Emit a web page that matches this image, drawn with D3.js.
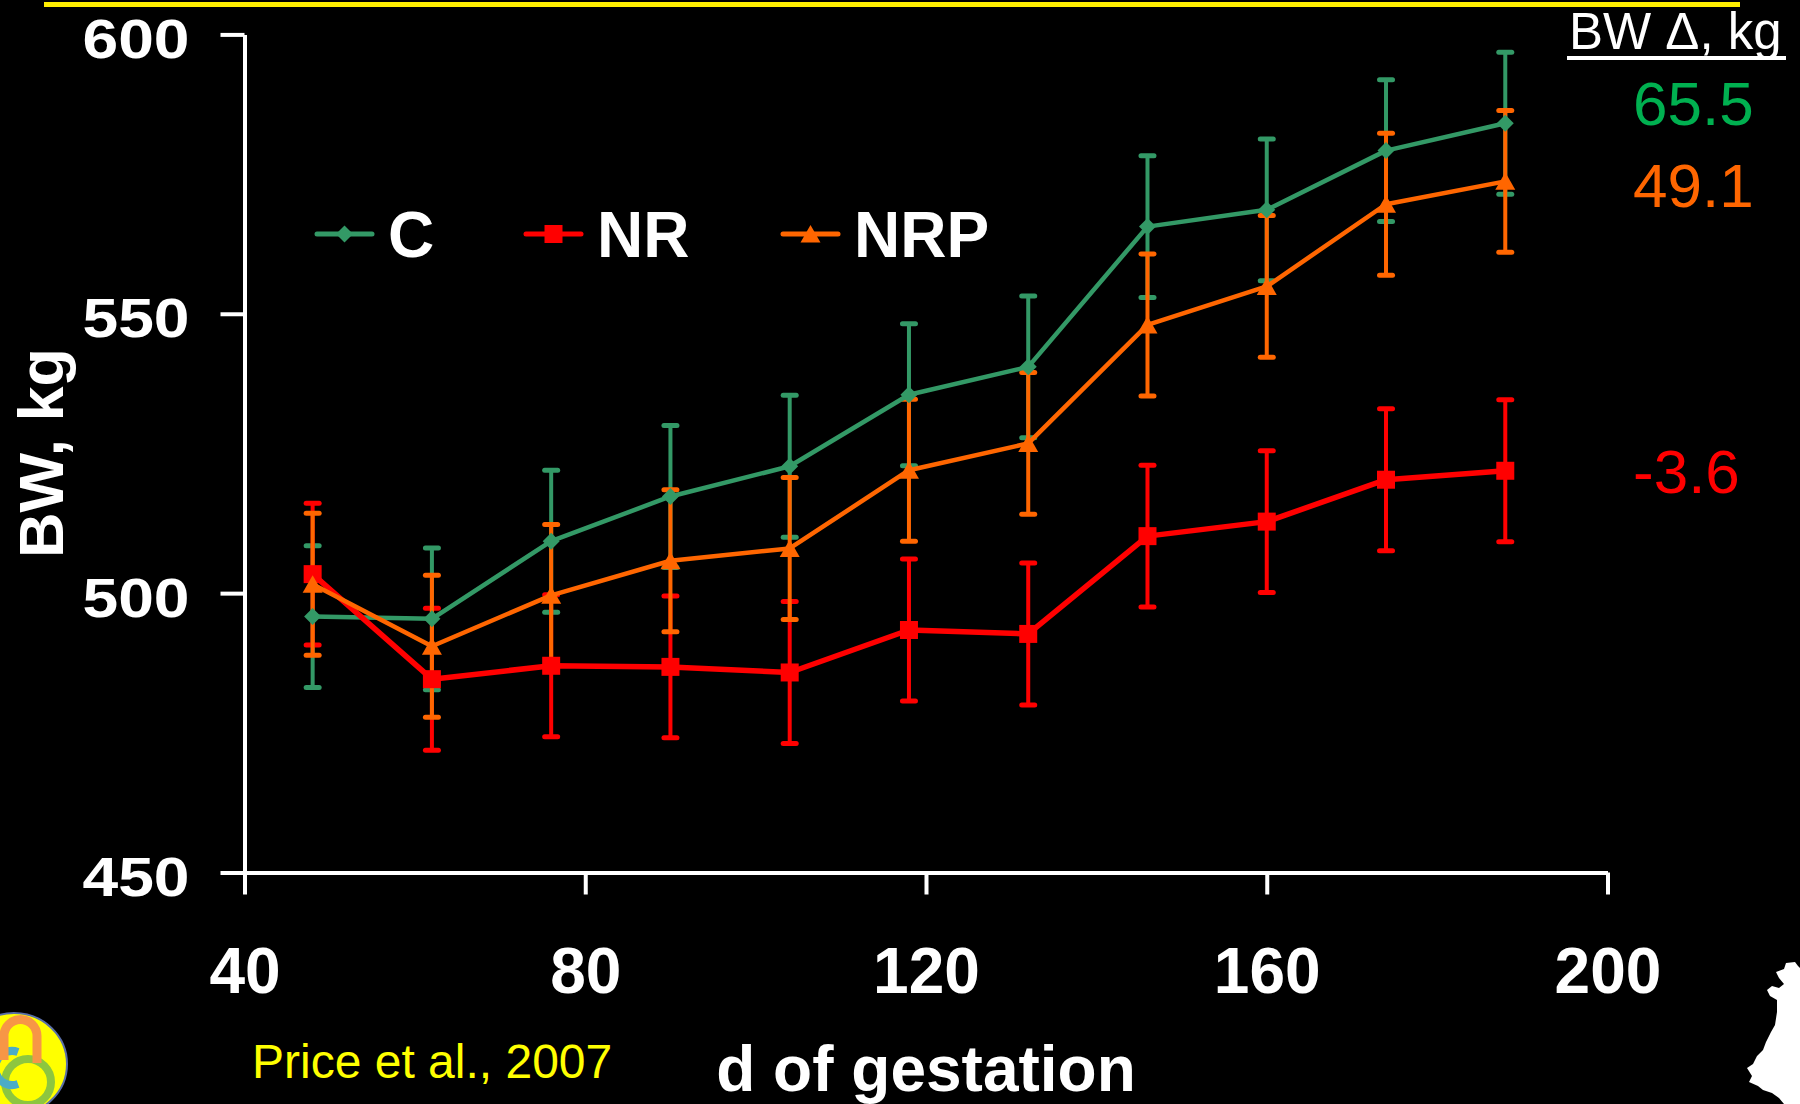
<!DOCTYPE html>
<html>
<head>
<meta charset="utf-8">
<script src="https://cdn.jsdelivr.net/npm/d3@7"></script>
<style>
  body { margin: 0; background: #000; }
  svg { display: block; }
  text { font-family: "Liberation Sans", Arial, Helvetica, sans-serif; }
</style>
</head>
<body>
<svg id="chart" width="1800" height="1104"></svg>
<script>
// days of gestation
var days = [48, 62, 76, 90, 104, 118, 132, 146, 160, 174, 188];

// body weight, kg
var bwC   = [495.8, 495.4, 509.3, 517.3, 522.7, 535.5, 540.5, 565.6, 568.6, 579.2, 584.1];
var bwNR  = [503.4, 484.6, 487.0, 486.8, 485.8, 493.4, 492.7, 510.2, 512.8, 520.3, 521.9];
var bwNRP = [501.6, 490.5, 499.6, 505.8, 508.0, 522.0, 526.8, 548.0, 554.9, 569.6, 573.7];

// standard errors
var seC   = [12.7, 12.7, 12.7, 12.7, 12.7, 12.7, 12.7, 12.7, 12.7, 12.7, 12.7];
var seNR  = [12.7, 12.7, 12.7, 12.7, 12.7, 12.7, 12.7, 12.7, 12.7, 12.7, 12.7];
var seNRP = [12.7, 12.7, 12.7, 12.7, 12.7, 12.7, 12.7, 12.7, 12.7, 12.7, 12.7];

var seriesNames = ["C", "NR", "NRP"];
var deltaLabels = ["65.5", "49.1", "-3.6"];
var xTicks = [40, 80, 120, 160, 200];
var yTicks = [450, 500, 550, 600];

var colors = { C: "#339966", NR: "#ff0000", NRP: "#ff6600" };
var deltaColors = ["#00b050", "#ff6600", "#ff0000"];

var series = [
  { name: "C",   values: bwC,   se: seC,   shape: "diamond",  width: 4.5 },
  { name: "NR",  values: bwNR,  se: seNR,  shape: "square",   width: 5.5 },
  { name: "NRP", values: bwNRP, se: seNRP, shape: "triangle", width: 4.5 }
];

var svg = d3.select("#chart");

var x = d3.scaleLinear().domain([40, 200]).range([244.5, 1607.5]);
var y = d3.scaleLinear().domain([450, 600]).range([872.5, 34.4]);

function markerPath(shape) {
  if (shape == "diamond") return "M0,-8.5L8.5,0L0,8.5L-8.5,0Z";
  if (shape == "square") return "M-9,-9H9V9H-9Z";
  return "M0,-9L10,8.5H-10Z";
}

/* yellow rule on top */
svg.append("line")
  .attr("x1", 44).attr("x2", 1740)
  .attr("y1", 4.5).attr("y2", 4.5)
  .attr("stroke", "#ffee00").attr("stroke-width", 5);

/* axes */
var yAxis = d3.axisLeft(y).tickValues(yTicks).tickSize(24).tickSizeOuter(0).tickFormat(d3.format("d"));
var xAxis = d3.axisBottom(x).tickValues(xTicks).tickSize(22).tickSizeOuter(0).tickFormat(d3.format("d"));

var gy = svg.append("g").attr("transform", "translate(244.5,0)").call(yAxis);
var gx = svg.append("g").attr("transform", "translate(0,872.5)").call(xAxis);

[gx, gy].forEach(function(g) {
  g.select(".domain").attr("stroke", "#fff").attr("stroke-width", 4);
  g.selectAll(".tick line").attr("stroke", "#fff").attr("stroke-width", 4);
});

gy.selectAll(".tick text")
  .attr("fill", "#fff")
  .attr("x", -55)
  .attr("dy", null)
  .attr("y", 23)
  .attr("text-anchor", "end")
  .attr("textLength", 107)
  .attr("lengthAdjust", "spacingAndGlyphs")
  .style("font-size", "56px")
  .style("font-weight", "bold");

gx.selectAll(".tick text")
  .attr("fill", "#fff")
  .attr("dy", null)
  .attr("y", 120)
  .style("font-size", "64px")
  .style("font-weight", "bold");

// axis titles
svg.append("text")
  .attr("transform", "translate(63,453) rotate(-90)")
  .attr("text-anchor", "middle")
  .attr("fill", "#fff")
  .style("font-size", "63px")
  .style("font-weight", "bold")
  .text("BW, kg");

svg.append("text")
  .attr("x", 926).attr("y", 1091)
  .attr("text-anchor", "middle")
  .attr("fill", "#fff")
  .style("font-size", "64px")
  .style("font-weight", "bold")
  .text("d of gestation");

/* error bars */
var bars = svg.append("g").attr("class", "errorbars");
series.forEach(function(s) {
  var g = bars.append("g").attr("stroke", colors[s.name]);
  var pts = days.map(function(d, i) { return { day: d, v: s.values[i], se: s.se[i] }; });
  g.selectAll("line.bar").data(pts).enter().append("line")
    .attr("x1", d => x(d.day)).attr("x2", d => x(d.day))
    .attr("y1", d => y(d.v + d.se)).attr("y2", d => y(d.v - d.se))
    .attr("stroke-width", 4);
  g.selectAll("line.capTop").data(pts).enter().append("line")
    .attr("x1", d => x(d.day) - 6.5).attr("x2", d => x(d.day) + 6.5)
    .attr("y1", d => y(d.v + d.se)).attr("y2", d => y(d.v + d.se))
    .attr("stroke-width", 5).attr("stroke-linecap", "round");
  g.selectAll("line.capBot").data(pts).enter().append("line")
    .attr("x1", d => x(d.day) - 6.5).attr("x2", d => x(d.day) + 6.5)
    .attr("y1", d => y(d.v - d.se)).attr("y2", d => y(d.v - d.se))
    .attr("stroke-width", 5).attr("stroke-linecap", "round");
});

/* lines */
var line = d3.line()
  .x(d => x(d.day))
  .y(d => y(d.v));

series.forEach(function(s) {
  var pts = days.map(function(d, i) { return { day: d, v: s.values[i] }; });
  svg.append("path")
    .datum(pts)
    .attr("d", line)
    .attr("fill", "none")
    .attr("stroke", colors[s.name])
    .attr("stroke-width", s.width)
    .attr("stroke-linejoin", "round");
});

/* markers */
series.forEach(function(s) {
  var pts = days.map(function(d, i) { return { day: d, v: s.values[i] }; });
  svg.append("g").selectAll("path").data(pts).enter().append("path")
    .attr("d", markerPath(s.shape))
    .attr("transform", d => `translate(${x(d.day)},${y(d.v)})`)
    .attr("fill", colors[s.name]);
});

/* legend */
var legendX = [317, 526, 783];
var legend = svg.append("g").attr("class", "legend");
series.forEach(function(s, i) {
  var g = legend.append("g").attr("transform", `translate(${legendX[i]},234)`);
  g.append("line")
    .attr("x1", 0).attr("x2", 55)
    .attr("stroke", colors[s.name]).attr("stroke-width", 5)
    .attr("stroke-linecap", "round");
  g.append("path")
    .attr("d", markerPath(s.shape))
    .attr("transform", "translate(27.5,0)")
    .attr("fill", colors[s.name]);
  g.append("text")
    .attr("x", 71).attr("y", 23)
    .attr("fill", "#fff")
    .style("font-size", "64px")
    .style("font-weight", "bold")
    .text(seriesNames[i]);
});

/* BW change annotations */
svg.append("text")
  .attr("x", 1569).attr("y", 49)
  .attr("fill", "#fff")
  .style("font-size", "51px")
  .text("BW \u0394, kg");
svg.append("line")
  .attr("x1", 1567).attr("x2", 1786)
  .attr("y1", 58).attr("y2", 58)
  .attr("stroke", "#fff").attr("stroke-width", 4);

var deltaY = [125, 207, 493];
deltaLabels.forEach(function(t, i) {
  svg.append("text")
    .attr("x", 1633).attr("y", deltaY[i])
    .attr("fill", deltaColors[i])
    .style("font-size", "62px")
    .text(t);
});

/* citation */
svg.append("text")
  .attr("x", 252).attr("y", 1078)
  .attr("fill", "#ffff00")
  .style("font-size", "48px")
  .text("Price et al., 2007");

/* logo, bottom left */
var logo = svg.append("g");
logo.append("ellipse")
  .attr("cx", 14).attr("cy", 1064).attr("rx", 53).attr("ry", 51)
  .attr("fill", "#ffff00").attr("stroke", "#5a6fa8").attr("stroke-width", 2);
logo.append("circle")
  .attr("cx", 28).attr("cy", 1082).attr("r", 23)
  .attr("fill", "none").attr("stroke", "#8dc63f").attr("stroke-width", 8);
logo.append("path")
  .attr("d", "M18,1052 A17,17 0 1 0 18,1084")
  .attr("fill", "none").attr("stroke", "#4bacc6").attr("stroke-width", 8);
logo.append("path")
  .attr("d", "M4,1060 V1036 A16.5,16.5 0 0 1 37,1036 V1063")
  .attr("fill", "none").attr("stroke", "#f79646").attr("stroke-width", 9);

/* bucking horse and rider, bottom right */
svg.append("path")
  .attr("d", "M1776,972 L1784,969 L1786,963 L1795,962 L1798,966 L1800,968 L1800,1104 L1784,1104 L1779,1098 L1772,1093 L1763,1090 L1758,1086 L1749,1082 L1752,1076 L1747,1068 L1753,1064 L1757,1056 L1763,1050 L1766,1042 L1771,1032 L1775,1025 L1777,1012 L1777,1000 L1770,996 L1767,990 L1772,986 L1779,988 L1784,984 L1779,978 Z")
  .attr("fill", "#fff");
</script>
</body>
</html>
